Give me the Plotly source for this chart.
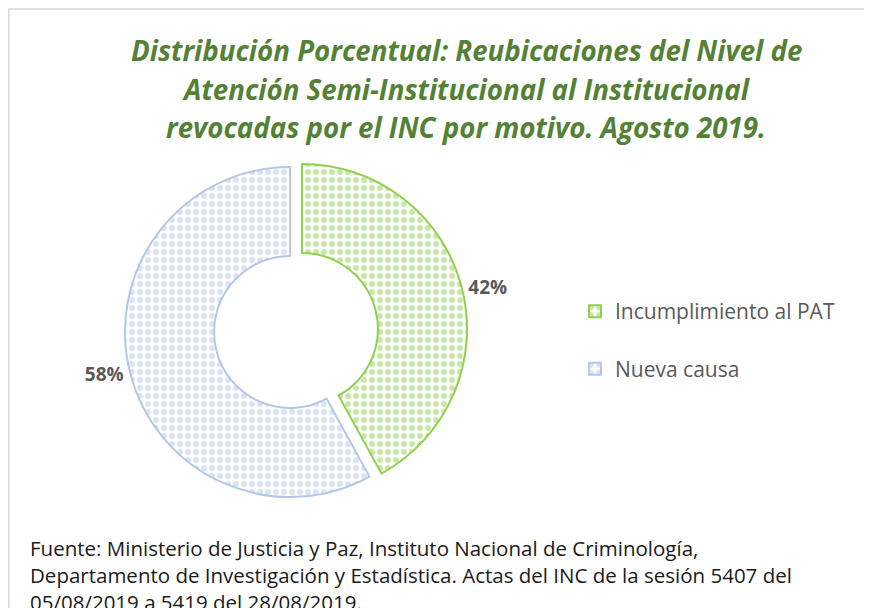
import plotly.graph_objects as go

categories = ["Incumplimiento al PAT", "Nueva causa"]
values = [42, 58]
colors = ["#92D050", "#B4C7E7"]
title_lines = [
    "Distribución Porcentual: Reubicaciones del Nivel de",
    "Atención Semi-Institucional al Institucional",
    "revocadas por el INC por motivo. Agosto 2019.",
]
footer_lines = [
    "Fuente: Ministerio de Justicia y Paz, Instituto Nacional de Criminología,",
    "Departamento de Investigación y Estadística. Actas del INC de la sesión 5407 del",
    "05/08/2019 a 5419 del 28/08/2019.",
]

# page offset (browser body margin) and figure size
OFF = 8
W, H = 864, 600
FONT = "Open Sans"


def fx(px):
    return (px - OFF) / W


def fy(py):
    return 1 - (py - OFF) / H


# legend labels: extra blank line after first item to open vertical space
legend_labels = [categories[0] + "<br> ", categories[1]]

cx, cy, half = 290, 332, 177.4
fig = go.Figure()
fig.add_trace(go.Pie(
    labels=legend_labels,
    values=values,
    sort=False,
    direction="clockwise",
    rotation=0,
    hole=0.46,
    pull=[0.075, 0],
    texttemplate="%{percent:.0%}",
    textposition="outside",
    textfont=dict(family=FONT, size=19, color="#595959", weight="bold"),
    marker=dict(
        colors=["white", "white"],
        line=dict(color=colors, width=2),
        pattern=dict(shape=".", fgcolor=colors, bgcolor="white",
                     fillmode="overlay", size=8, solidity=0.42),
    ),
    domain=dict(x=[fx(cx - half), fx(cx + half)], y=[fy(cy + half), fy(cy - half)]),
    hoverinfo="skip",
    showlegend=True,
))

annotations = []
for i, line in enumerate(title_lines):
    annotations.append(dict(
        text=line, x=fx(466), y=fy(50 + 38.5 * i), xref="paper", yref="paper",
        xanchor="center", yanchor="middle", showarrow=False,
        font=dict(family=FONT, size=27.7, color="#538135", weight="bold", style="italic"),
    ))
for i, line in enumerate(footer_lines):
    annotations.append(dict(
        text=line, x=fx(28), y=fy(548 + 27 * i), xref="paper", yref="paper",
        xanchor="left", yanchor="middle", showarrow=False,
        font=dict(family=FONT, size=20.5, color="#1a1a1a"),
    ))

fig.update_layout(
    width=W, height=H,
    margin=dict(l=0, r=0, t=0, b=0),
    paper_bgcolor="white",
    plot_bgcolor="white",
    showlegend=True,
    legend=dict(
        x=fx(575), y=fy(291), xanchor="left", yanchor="top",
        font=dict(family=FONT, size=21, color="#595959"),
        valign="top",
        itemsizing="constant",
        bgcolor="rgba(0,0,0,0)",
    ),
    annotations=annotations,
    shapes=[dict(type="rect", xref="paper", yref="paper",
                 x0=0.001, x1=1.05, y0=-0.05, y1=fy(9),
                 line=dict(color="#D9D9D9", width=1.5))],
)

fig.write_html("out.html")
